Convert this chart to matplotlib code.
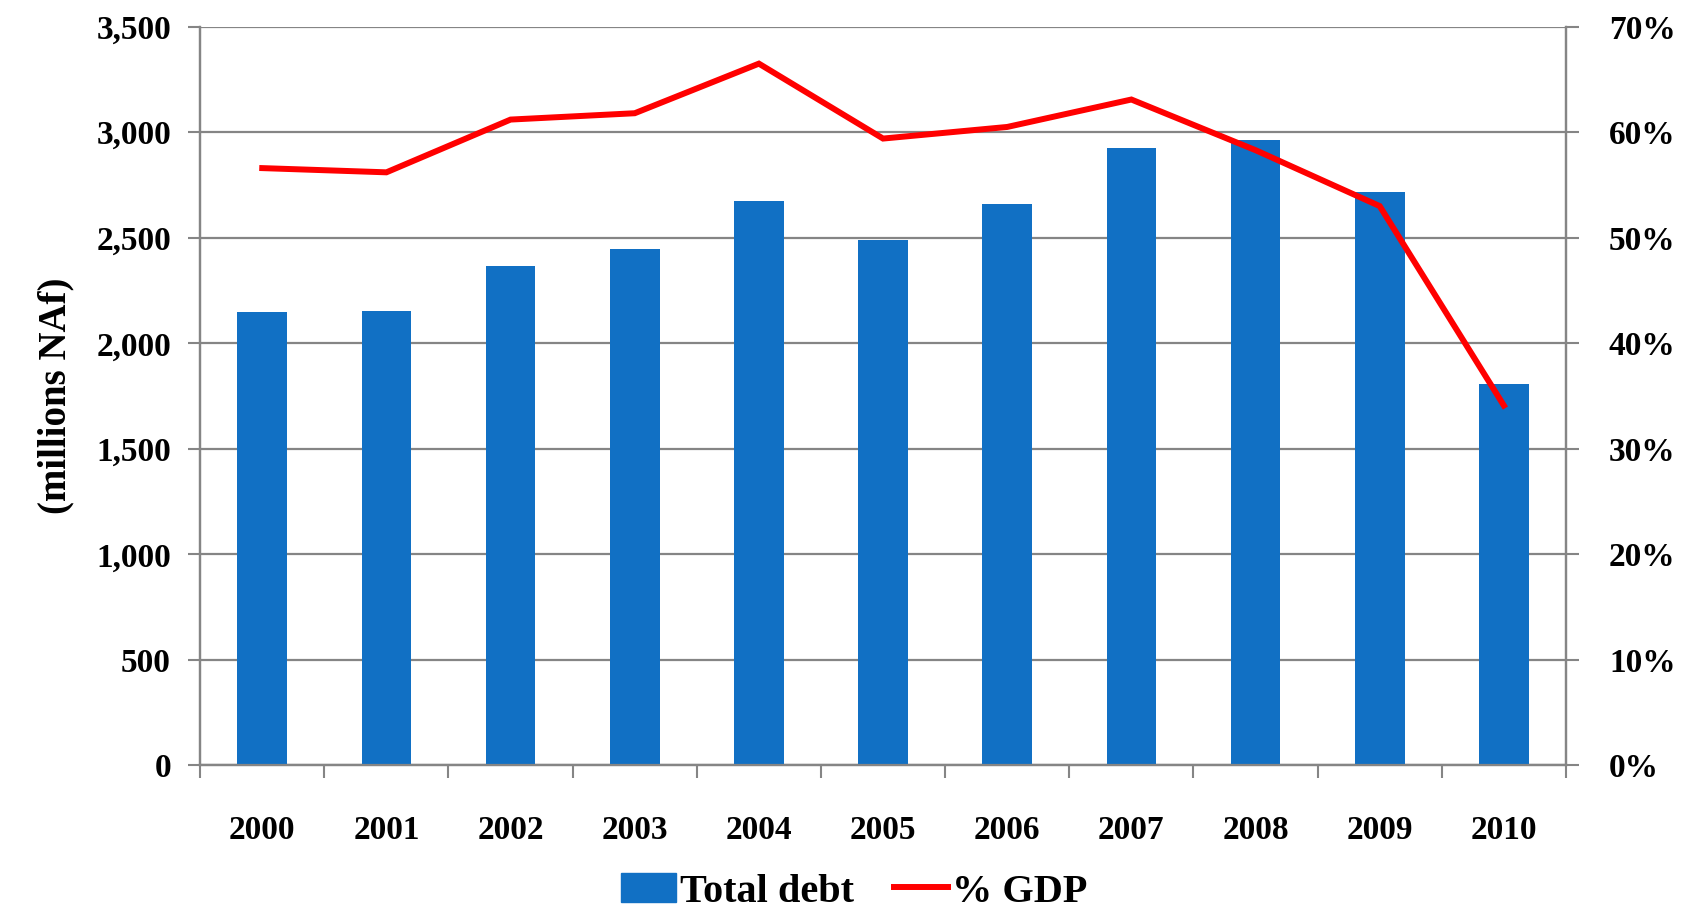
import matplotlib
matplotlib.use('Agg')
import matplotlib.pyplot as plt
import numpy as np
from matplotlib.lines import Line2D
from matplotlib.patches import Patch

years = ['2000', '2001', '2002', '2003', '2004', '2005',
         '2006', '2007', '2008', '2009', '2010']
total_debt = [2150, 2154, 2366, 2446, 2675, 2491, 2659, 2924, 2962, 2715, 1806]
pct_gdp = [56.6, 56.2, 61.2, 61.8, 66.5, 59.4, 60.5, 63.1, 58.3, 53.0, 34.1]
left_ticks = [0, 500, 1000, 1500, 2000, 2500, 3000, 3500]
right_ticks = [0, 10, 20, 30, 40, 50, 60, 70]

plt.rcParams['font.family'] = ['Liberation Serif', 'DejaVu Serif']
plt.rcParams['font.weight'] = 'bold'

bar_color = '#1170c4'
grid_color = '#858585'

fig = plt.figure(figsize=(16.82, 9.21), dpi=100)
ax = fig.add_axes([0.119, 0.169, 0.812, 0.802])
ax2 = ax.twinx()

x = np.arange(len(years))
ax.bar(x, total_debt, width=0.4, color=bar_color, zorder=3)
ax2.plot(x, pct_gdp, color='#ff0000', lw=4.3, solid_joinstyle='miter', zorder=4)

ax.set_xlim(-0.5, len(years) - 0.5)
ax.set_ylim(0, 3500)
ax2.set_ylim(0, 70)

ax.set_yticks(left_ticks)
ax.set_yticklabels([f'{v:,}' for v in left_ticks])
ax2.set_yticks(right_ticks)
ax2.set_yticklabels([f'{v}%' for v in right_ticks])

# category boundaries as major ticks, labels on centres
ax.set_xticks(np.arange(-0.5, len(years) + 0.5, 1))
ax.set_xticklabels([])
ax.set_xticks(x, minor=True)
ax.set_xticklabels(years, minor=True)
ax.tick_params(axis='x', which='major', length=9, width=1.5, color=grid_color)
ax.tick_params(axis='x', which='minor', length=0, pad=36, labelsize=24)

ax.tick_params(axis='y', length=9, width=1.5, color=grid_color, pad=12, labelsize=24)
ax2.tick_params(axis='y', length=9, width=1.5, color=grid_color, pad=22, labelsize=24)

ax.yaxis.grid(True, color=grid_color, lw=1.6, zorder=0)
ax.set_axisbelow(True)

for a in (ax, ax2):
    for side in ('left', 'right', 'bottom'):
        a.spines[side].set_color(grid_color)
        a.spines[side].set_linewidth(1.6)
    a.spines['top'].set_visible(False)

ax.set_ylabel('(millions NAf)', fontsize=28, fontweight='bold', labelpad=16)

handles = [Patch(color=bar_color, label='Total debt'),
           Line2D([0], [0], color='#ff0000', lw=4.3, label='% GDP')]
fig.legend(handles=handles, loc='lower center', bbox_to_anchor=(0.508, -0.028),
           ncol=2, frameon=False, fontsize=29, handlelength=1.35,
           handleheight=0.75, handletextpad=0.1, columnspacing=1.0)

fig.savefig('out.png', dpi=100)
